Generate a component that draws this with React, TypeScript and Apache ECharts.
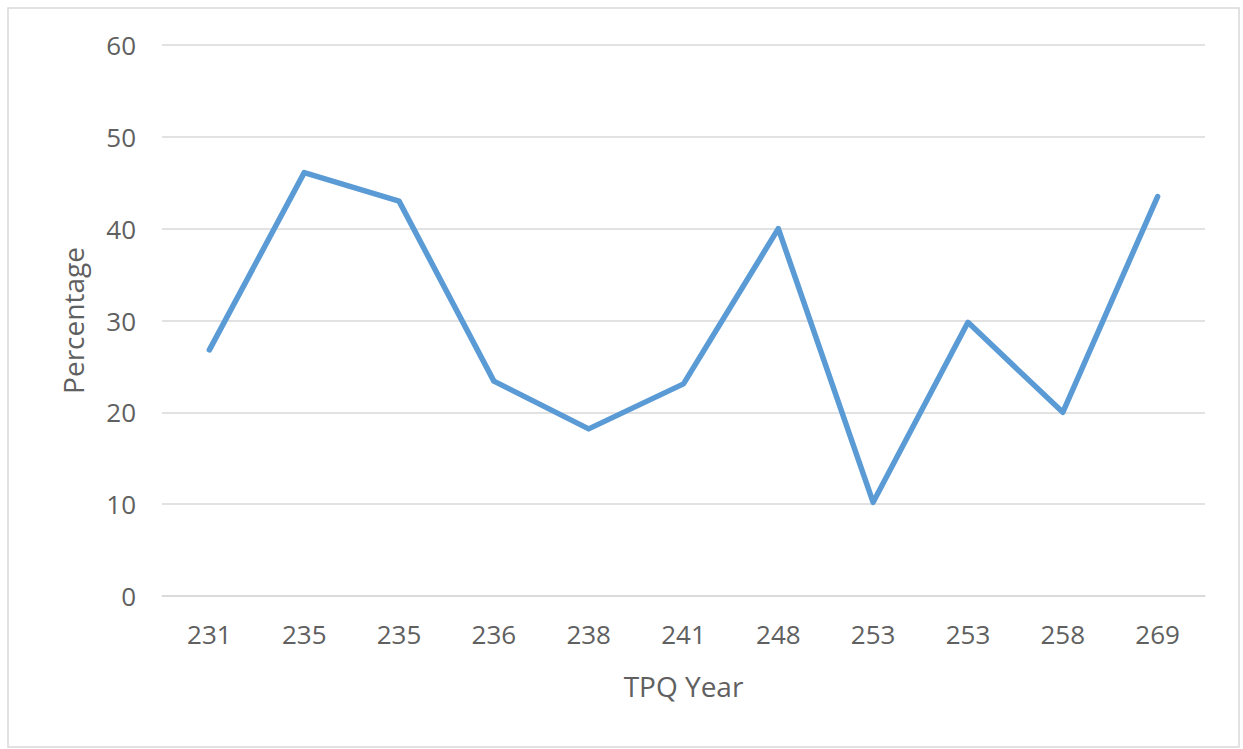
import React, { useEffect, useRef } from "react";
import * as echarts from "echarts";

const categories = ["231", "235", "235", "236", "238", "241", "248", "253", "253", "258", "269"];
const percentages = [26.8, 46.1, 43.0, 23.4, 18.2, 23.1, 40.0, 10.2, 29.8, 20.0, 43.5];
const yTicks = { min: 0, max: 60, interval: 10 };

export default function App() {
  const ref = useRef<HTMLDivElement>(null);
  useEffect(() => {
    document.body.style.margin = "0";
    if (!ref.current) return;
    const chart = echarts.init(ref.current, undefined, { renderer: "svg" });
    const font = "'Open Sans', 'Noto Sans', sans-serif";
    chart.setOption({
      animation: false,
      backgroundColor: "#ffffff",
      graphic: [
        {
          type: "rect",
          shape: { x: 8, y: 8, width: 1231, height: 739 },
          style: { fill: "none", stroke: "#d9d9d9", lineWidth: 1.5 },
          silent: true,
        },
      ],
      grid: { left: 162, right: 38, top: 45, bottom: 153, containLabel: false },
      xAxis: {
        type: "category",
        data: categories.map((_, i) => String(i)),
        boundaryGap: true,
        name: "TPQ Year",
        nameLocation: "middle",
        nameGap: 76,
        nameTextStyle: { color: "#606060", fontSize: 28, fontFamily: font },
        axisLine: { show: true, lineStyle: { color: "#d9d9d9", width: 1.5 } },
        axisTick: { show: false },
        axisLabel: {
          color: "#606060",
          fontSize: 26,
          fontFamily: font,
          margin: 25,
          interval: 0,
          formatter: (_v: string, i: number) => categories[i],
        },
        splitLine: { show: false },
      },
      yAxis: {
        type: "value",
        min: yTicks.min,
        max: yTicks.max,
        interval: yTicks.interval,
        name: "Percentage",
        nameLocation: "middle",
        nameGap: 75,
        nameTextStyle: { color: "#606060", fontSize: 28, fontFamily: font },
        axisLine: { show: false },
        axisTick: { show: false },
        axisLabel: { color: "#606060", fontSize: 26, fontFamily: font, margin: 26 },
        splitLine: { lineStyle: { color: "#d9d9d9", width: 1.5 } },
      },
      series: [
        {
          type: "line",
          data: percentages,
          symbol: "none",
          lineStyle: { color: "#5B9BD5", width: 5.5, cap: "round", join: "round" },
        },
      ],
    });
    return () => chart.dispose();
  }, []);
  return <div ref={ref} style={{ width: 1243, height: 749 }} />;
}
